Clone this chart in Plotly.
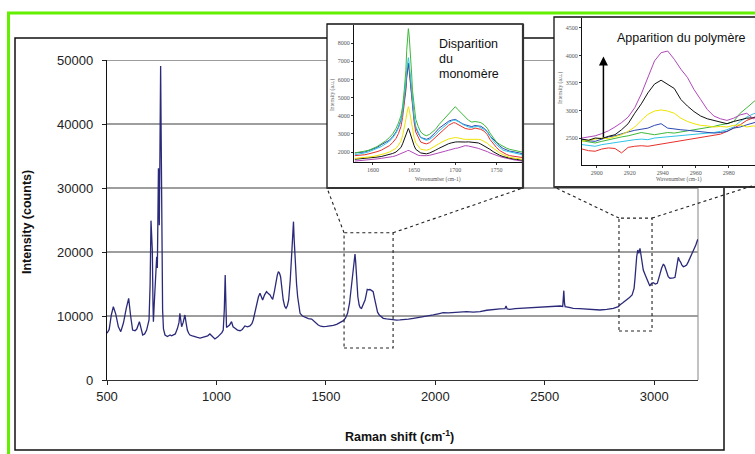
import plotly.graph_objects as go

W, H = 755, 454


def px(x):
    return x / W


def py(y):
    return 1 - y / H


# ---------------- main spectrum ----------------
raman_shift = [
    500, 510, 520, 529, 540, 552, 563, 575, 588, 599, 608, 617, 628, 636, 648, 657, 663, 672, 681, 692,
    697, 701, 704, 707, 710, 712, 716, 719, 723, 727, 730, 733, 735, 738, 739, 742, 745, 747, 749, 752,
    754, 758, 765, 776, 788, 795, 803, 812, 822, 829, 833, 837, 841, 848, 852, 856, 861, 867, 873, 879,
    890, 902, 913, 925, 936, 948, 960, 970, 980, 993, 1005, 1016, 1025, 1031, 1036, 1040, 1043, 1046, 1050, 1060,
    1069, 1076, 1085, 1096, 1108, 1118, 1130, 1142, 1153, 1162, 1168, 1176, 1184, 1192, 1199, 1205, 1211, 1220, 1229, 1237,
    1245, 1251, 1257, 1265, 1272, 1278, 1283, 1288, 1293, 1299, 1305, 1312, 1318, 1324, 1330, 1337, 1344, 1349, 1352, 1355,
    1360, 1366, 1371, 1376, 1382, 1393, 1404, 1420, 1435, 1450, 1465, 1476, 1488, 1503, 1519, 1534, 1549, 1565, 1580, 1590,
    1599, 1608, 1617, 1625, 1630, 1633, 1636, 1640, 1646, 1652, 1657, 1663, 1670, 1679, 1684, 1689, 1695, 1701, 1708, 1716,
    1722, 1729, 1736, 1744, 1752, 1762, 1777, 1793, 1808, 1823, 1838, 1854, 1877, 1900, 1922, 1945, 1968, 1991, 2013, 2036,
    2059, 2082, 2112, 2143, 2173, 2204, 2235, 2265, 2295, 2318, 2323, 2328, 2341, 2364, 2387, 2418, 2448, 2479, 2509, 2540,
    2570, 2582, 2585, 2587, 2590, 2593, 2611, 2630, 2660, 2691, 2722, 2752, 2783, 2813, 2836, 2843, 2858, 2874, 2887, 2899,
    2904, 2908, 2912, 2916, 2920, 2925, 2930, 2935, 2938, 2942, 2946, 2950, 2958, 2965, 2972, 2980, 2988, 2996, 3005, 3014,
    3020, 3026, 3034, 3042, 3048, 3054, 3060, 3064, 3072, 3080, 3088, 3095, 3102, 3110, 3115, 3120, 3126, 3133, 3140, 3148,
    3156, 3163, 3170, 3178, 3185, 3190, 3195, 3199,
]
intensity_counts = [
    7300, 7900, 10200, 11450, 10300, 8300, 7550, 8900, 11200, 12760, 10000, 7800, 7700, 7960, 9110, 7900, 7030, 7200, 7800, 9380,
    15000, 24900, 23000, 20300, 12000, 9110, 12000, 14060, 17000, 19270, 17500, 28000, 33070, 26000, 24200, 36000, 49060, 40000, 30800, 18000,
    10940, 8000, 7030, 6800, 7030, 6900, 7030, 7200, 8070, 9000, 10420, 9500, 8330, 9000, 9600, 10160, 9000, 7800, 7300, 7030,
    6900, 6720, 6650, 6560, 6650, 6700, 6900, 7190, 6800, 6410, 6700, 7030, 7400, 7800, 11000, 16400, 12500, 8200, 8330, 8600,
    9110, 8300, 8070, 7800, 7700, 7900, 8440, 8300, 8440, 8800, 9380, 10500, 11980, 13000, 13540, 12900, 12500, 13300, 13800, 13500,
    13280, 12900, 12600, 13900, 15360, 16400, 16920, 16700, 16140, 14000, 12500, 11500, 11200, 11600, 12500, 15500, 20300, 23500, 24740, 22000,
    17700, 15000, 13000, 11500, 10420, 10000, 9800, 9600, 9530, 9000, 8590, 8400, 8330, 8380, 8440, 8550, 8700, 8950, 9270, 9700,
    10420, 12000, 14580, 17500, 19200, 19690, 18500, 15630, 13000, 11720, 11300, 11200, 11700, 12500, 13300, 14170, 14100, 14140, 14000, 13800,
    12800, 11450, 10600, 10160, 9900, 9640, 9550, 9480, 9300, 9350, 9380, 9400, 9500, 9640, 9750, 9900, 10000, 10160, 10350, 10520,
    10500, 10570, 10650, 10680, 10600, 10680, 10900, 11040, 11100, 11150, 11560, 11100, 11040, 11150, 11200, 11300, 11350, 11400, 11450, 11500,
    11560, 11500, 13500, 13960, 12000, 11450, 11350, 11200, 11150, 11090, 11000, 10940, 11050, 11200, 11450, 11720, 12100, 12500, 12900, 13280,
    13800, 14320, 15800, 17700, 19300, 20300, 19800, 20570, 19800, 18750, 17900, 17190, 16500, 15890, 15200, 14690, 15100, 15200, 15000, 15100,
    15800, 16670, 17500, 18130, 17800, 17190, 16500, 16140, 15900, 15890, 15950, 16040, 17300, 19170, 18700, 18480, 18000, 17700, 17800, 17970,
    18500, 19020, 19600, 20050, 20600, 21090, 21600, 21980,
]
main_x_ticks = [500, 1000, 1500, 2000, 2500, 3000]
main_y_ticks = [0, 10000, 20000, 30000, 40000, 50000]

# zoomed regions (wavenumber min, max, intensity min, max)
zoom_monomer = [1583, 1807, 5000, 23000]
zoom_polymer = [2839, 2990, 7660, 25300]

# ---------------- inset 1 : disparition du monomère ----------------
mono_wn = [1578, 1584, 1590, 1595, 1600, 1605, 1610, 1615, 1620, 1624, 1628, 1631, 1634, 1636, 1638, 1640, 1641,
           1642, 1643, 1644, 1645, 1647, 1648, 1650, 1652, 1655, 1658, 1662, 1665, 1669, 1672, 1676, 1680, 1684,
           1688, 1692, 1695, 1698, 1700, 1703, 1705, 1709, 1712, 1716, 1720, 1724, 1728, 1731, 1735, 1739, 1742,
           1746, 1750, 1754, 1758, 1762, 1766, 1770, 1774, 1778, 1781]
mono_green = [1950, 1980, 2050, 2100, 2200, 2300, 2450, 2600, 2800, 3000, 3300, 3600, 4000, 4500, 5400, 6500, 7600,
              8300, 8800, 8400, 7800, 6300, 5400, 4500, 3800, 3400, 3100, 2950, 2900, 2980, 3100, 3250, 3500, 3700,
              3950, 4150, 4300, 4420, 4500, 4350, 4250, 4050, 3900, 3750, 3650, 3680, 3650, 3620, 3500, 3300, 3050,
              2800, 2550, 2420, 2300, 2220, 2150, 2100, 2050, 2020, 2000]
mono_cyan = [1850, 1880, 1950, 2010, 2100, 2180, 2300, 2440, 2600, 2780, 3050, 3330, 3700, 4200, 4900, 5800, 6500,
             7000, 7200, 6900, 6400, 5300, 4600, 3900, 3400, 3050, 2800, 2700, 2650, 2700, 2800, 2950, 3150, 3320,
             3500, 3620, 3700, 3760, 3750, 3700, 3650, 3520, 3450, 3380, 3350, 3400, 3400, 3350, 3250, 3080, 2850,
             2620, 2400, 2230, 2100, 2050, 2000, 1950, 1900, 1870, 1850]
mono_blue = [1950, 1970, 2000, 2080, 2150, 2250, 2400, 2520, 2650, 2850, 3100, 3380, 3750, 4200, 4800, 5600, 6200,
             6700, 6900, 6600, 6100, 5100, 4500, 3850, 3350, 3020, 2800, 2750, 2700, 2780, 2900, 3080, 3300, 3450,
             3600, 3700, 3750, 3800, 3800, 3720, 3650, 3550, 3500, 3440, 3400, 3460, 3450, 3420, 3300, 3120, 2900,
             2700, 2500, 2330, 2200, 2120, 2050, 2020, 2000, 1950, 1900]
mono_red = [1800, 1820, 1850, 1900, 1950, 2020, 2100, 2220, 2350, 2520, 2750, 3020, 3400, 3900, 4600, 5400, 6100,
            6600, 6800, 6500, 6000, 4900, 4300, 3650, 3100, 2780, 2550, 2480, 2450, 2520, 2650, 2820, 3000, 3180,
            3350, 3480, 3550, 3620, 3600, 3520, 3450, 3350, 3300, 3260, 3250, 3320, 3300, 3250, 3150, 2950, 2700,
            2450, 2250, 2080, 1950, 1870, 1800, 1780, 1750, 1720, 1700]
mono_yellow = [1650, 1670, 1700, 1720, 1750, 1800, 1850, 1920, 2000, 2080, 2200, 2380, 2600, 2900, 3300, 3800, 4100,
               4400, 4500, 4350, 4100, 3600, 3200, 2800, 2500, 2300, 2150, 2120, 2100, 2160, 2250, 2340, 2450, 2560,
               2650, 2720, 2750, 2800, 2800, 2780, 2750, 2720, 2700, 2710, 2700, 2720, 2700, 2680, 2600, 2480, 2350,
               2200, 2050, 1950, 1850, 1780, 1700, 1680, 1650, 1620, 1600]
mono_black = [1600, 1620, 1650, 1680, 1700, 1720, 1750, 1800, 1850, 1920, 2000, 2100, 2250, 2450, 2700, 2950, 3100,
              3250, 3300, 3200, 3050, 2800, 2600, 2350, 2150, 2050, 1950, 1920, 1900, 1950, 2000, 2100, 2200, 2300,
              2400, 2460, 2500, 2540, 2550, 2560, 2550, 2560, 2550, 2560, 2550, 2530, 2500, 2440, 2350, 2250, 2150,
              2020, 1900, 1820, 1750, 1700, 1650, 1620, 1600, 1570, 1550]
mono_magenta = [1500, 1520, 1550, 1570, 1600, 1620, 1650, 1680, 1700, 1750, 1800, 1850, 1900, 1950, 2000, 2030, 2050,
                2080, 2100, 2080, 2050, 2000, 1950, 1900, 1850, 1820, 1800, 1790, 1800, 1820, 1850, 1900, 1950, 2000,
                2050, 2100, 2150, 2180, 2200, 2220, 2250, 2300, 2350, 2330, 2300, 2250, 2200, 2150, 2100, 2020, 1950,
                1870, 1800, 1750, 1700, 1650, 1600, 1580, 1550, 1520, 1500]
mono_x_ticks = [1600, 1650, 1700, 1750]
mono_y_ticks = [2000, 3000, 4000, 5000, 6000, 7000, 8000]

# ---------------- inset 2 : apparition du polymère ----------------
poly_wn = [2891, 2895, 2899, 2903, 2907, 2911, 2915, 2919, 2923, 2927, 2931, 2935, 2939, 2943,
           2947, 2951, 2955, 2959, 2963, 2967, 2971, 2975, 2979, 2983, 2987, 2991, 2995, 2998]
poly_magenta = [2500, 2520, 2540, 2580, 2630, 2700, 2780, 2880, 3050, 3300, 3600, 3900, 4050, 4080,
                3930, 3750, 3600, 3380, 3200, 3020, 2900, 2850, 2820, 2860, 2920, 2950, 2850, 2900]
poly_black = [2480, 2460, 2500, 2490, 2530, 2560, 2650, 2760, 2950, 3120, 3320, 3480, 3550, 3470,
              3400, 3200, 3080, 2980, 2900, 2850, 2820, 2790, 2760, 2800, 2830, 2860, 2870, 2900]
poly_yellow = [2440, 2460, 2470, 2500, 2490, 2520, 2560, 2620, 2700, 2820, 2930, 2990, 3010, 2990,
               2950, 2860, 2800, 2760, 2730, 2720, 2700, 2710, 2700, 2730, 2740, 2700, 2720, 2700]
poly_blue = [2480, 2450, 2440, 2480, 2520, 2540, 2580, 2610, 2640, 2660, 2680, 2730, 2760, 2680,
             2660, 2650, 2640, 2630, 2620, 2600, 2590, 2600, 2620, 2680, 2700, 2740, 2770, 2800]
poly_green = [2450, 2430, 2410, 2440, 2470, 2490, 2520, 2540, 2570, 2600, 2580, 2560, 2580, 2600,
              2590, 2610, 2620, 2640, 2660, 2690, 2710, 2740, 2760, 2800, 2950, 3050, 3150, 3230]
poly_cyan = [2380, 2360, 2350, 2380, 2400, 2420, 2440, 2450, 2470, 2480, 2470, 2500, 2510, 2520,
             2530, 2540, 2550, 2560, 2570, 2590, 2600, 2620, 2650, 2700, 2800, 2880, 2940, 2960]
poly_red = [2300, 2270, 2260, 2300, 2320, 2310, 2230, 2330, 2350, 2360, 2350, 2370, 2380, 2400,
            2420, 2440, 2460, 2480, 2500, 2520, 2540, 2570, 2620, 2680, 2740, 2820, 2870, 2900]
poly_x_ticks = [2900, 2920, 2940, 2960, 2980]
poly_y_ticks = [2500, 3000, 3500, 4000, 4500]

# ---------------- geometry ----------------
MAIN_XR, MAIN_YR = [500, 3200], [0, 50000]
MAIN_XD, MAIN_YD = [px(107), px(698)], [py(380), py(60)]
IN1_XR, IN1_YR = [1577, 1781], [1450, 9000]
IN1_XD, IN1_YD = [px(354), px(522)], [py(162), py(25)]
IN2_XR, IN2_YR = [2891, 2996], [2010, 4680]
IN2_XD, IN2_YD = [px(582), 1.0], [py(165), py(18)]


def to_paper_x(v):
    return MAIN_XD[0] + (v - MAIN_XR[0]) / (MAIN_XR[1] - MAIN_XR[0]) * (MAIN_XD[1] - MAIN_XD[0])


def to_paper_y(v):
    return MAIN_YD[0] + (v - MAIN_YR[0]) / (MAIN_YR[1] - MAIN_YR[0]) * (MAIN_YD[1] - MAIN_YD[0])


fig = go.Figure()

fig.add_trace(go.Scatter(x=raman_shift, y=intensity_counts, mode="lines",
                         line=dict(color="#2B2A7A", width=1.3), xaxis="x", yaxis="y"))

mono_colors = [(mono_magenta, "#B048B8"), (mono_black, "#111111"), (mono_yellow, "#F0E400"),
               (mono_red, "#E8302A"), (mono_blue, "#2B48B0"), (mono_cyan, "#30C4E8"), (mono_green, "#3DB83A")]
for ys, c in mono_colors:
    fig.add_trace(go.Scatter(x=mono_wn, y=ys, mode="lines", line=dict(color=c, width=1),
                             xaxis="x2", yaxis="y2"))

poly_colors = [(poly_red, "#E8302A"), (poly_cyan, "#30C4E8"), (poly_green, "#3DB83A"), (poly_blue, "#2B48B0"),
               (poly_yellow, "#F0E400"), (poly_black, "#111111"), (poly_magenta, "#B048B8")]
for ys, c in poly_colors:
    fig.add_trace(go.Scatter(x=poly_wn, y=ys, mode="lines", line=dict(color=c, width=1),
                             xaxis="x3", yaxis="y3"))

tickfont_main = dict(family="Liberation Sans, Arial", size=13, color="#222")
tickfont_inset = dict(family="Liberation Serif, DejaVu Serif", size=6, color="#555")

shapes = []
# outer black frame
shapes.append(dict(type="rect", xref="paper", yref="paper", x0=px(15), x1=px(724), y0=py(450), y1=py(38),
                   line=dict(color="#111", width=1.5), layer="below"))
# gridlines
for v in main_y_ticks[1:]:
    shapes.append(dict(type="line", xref="paper", yref="y", x0=MAIN_XD[0], x1=MAIN_XD[1], y0=v, y1=v,
                       line=dict(color="#3c3c3c", width=1), layer="below"))
# right border of plot area
shapes.append(dict(type="line", xref="paper", yref="paper", x0=MAIN_XD[1], x1=MAIN_XD[1],
                   y0=MAIN_YD[0], y1=MAIN_YD[1], line=dict(color="#9a9a9a", width=1.2), layer="below"))
# inset white backgrounds
in1_box = [px(327), px(523), py(188), py(24)]
in2_box = [px(554), px(765), py(187), py(17)]
for b in (in1_box, in2_box):
    shapes.append(dict(type="rect", xref="paper", yref="paper", x0=b[0], x1=b[1], y0=b[2], y1=b[3],
                       fillcolor="white", line=dict(width=0), layer="below"))
    shapes.append(dict(type="rect", xref="paper", yref="paper", x0=b[0], x1=b[1], y0=b[2], y1=b[3],
                       line=dict(color="#111", width=1.3), layer="above"))
    shapes.append(dict(type="line", xref="paper", yref="paper", x0=b[0], x1=b[1], y0=b[2], y1=b[2],
                       line=dict(color="#333", width=2.2), layer="above"))
    shapes.append(dict(type="line", xref="paper", yref="paper", x0=b[1], x1=b[1], y0=b[2], y1=b[3],
                       line=dict(color="#333", width=2.2), layer="above"))

# zoom boxes + connectors
for z, b in ((zoom_monomer, in1_box), (zoom_polymer, in2_box)):
    x0, x1 = to_paper_x(z[0]), to_paper_x(z[1])
    y0, y1 = to_paper_y(z[2]), to_paper_y(z[3])
    dl = dict(color="#222", width=1.1, dash="dot")
    shapes.append(dict(type="rect", xref="paper", yref="paper", x0=x0, x1=x1, y0=y0, y1=y1,
                       line=dl, layer="above"))
    shapes.append(dict(type="line", xref="paper", yref="paper", x0=x0, y0=y1, x1=b[0], y1=b[2],
                       line=dl, layer="above"))
    right_x = min(b[1], 1.0)
    right_y = py(185) if b[1] > 1 else b[2]
    shapes.append(dict(type="line", xref="paper", yref="paper", x0=x1, y0=y1, x1=right_x, y1=right_y,
                       line=dl, layer="above"))

# green border
shapes.append(dict(type="line", xref="paper", yref="paper", x0=px(7), x1=1.0, y0=py(13), y1=py(13),
                   line=dict(color="#62F000", width=3), layer="above"))
shapes.append(dict(type="line", xref="paper", yref="paper", x0=px(8.5), x1=px(8.5), y0=py(12), y1=0,
                   line=dict(color="#62F000", width=3), layer="above"))

sans = "Liberation Sans, Arial"
serif = "Liberation Serif, DejaVu Serif"


def note(text, x, y, size, family=sans, color="#111", angle=0, xanchor="center"):
    return dict(text=text, x=px(x), y=py(y), xref="paper", yref="paper", showarrow=False,
                xanchor=xanchor, yanchor="middle", textangle=angle,
                font=dict(family=family, size=size, color=color))


annotations = [
    note("<b>Intensity (counts)</b>", 27, 222, 12.5, angle=-90),
    note("<b>Raman shift (cm<sup>-1</sup>)</b>", 399, 436, 12.5),
    note("Disparition", 437, 44, 12.5, xanchor="left"),
    note("du", 437, 59, 12.5, xanchor="left"),
    note("monomère", 437, 74, 12.5, xanchor="left"),
    note("Apparition du polymère", 681, 38, 12.5),
    note("Wavenumber (cm-1)", 438, 179.5, 5.5, family=serif, color="#555"),
    note("Intensity (a.u.)", 333, 95, 5.5, family=serif, color="#555", angle=-90),
    note("Wavenumber (cm-1)", 679, 179, 5.5, family=serif, color="#555"),
    note("Intensity (a.u.)", 561, 88, 5.5, family=serif, color="#555", angle=-90),
    dict(text="", x=2904, y=3980, xref="x3", yref="y3", ax=2904, ay=2480, axref="x3", ayref="y3",
         showarrow=True, arrowhead=2, arrowsize=1.2, arrowwidth=1.5, arrowcolor="#000"),
]

inset_axis = dict(showline=True, linecolor="#111", linewidth=1, ticks="outside", ticklen=2,
                  tickcolor="#333", tickfont=tickfont_inset, showgrid=False, zeroline=False,
                  automargin=False)

fig.update_layout(
    width=W, height=H, margin=dict(l=0, r=0, t=0, b=0, pad=0, autoexpand=False),
    paper_bgcolor="white", plot_bgcolor="white", showlegend=False,
    xaxis=dict(range=MAIN_XR, domain=MAIN_XD, tickvals=main_x_ticks, ticks="outside", ticklen=4,
               tickcolor="#222", showline=True, linecolor="#333", linewidth=1.2, showgrid=False,
               zeroline=False, tickfont=tickfont_main, anchor="y", automargin=False),
    yaxis=dict(range=MAIN_YR, domain=MAIN_YD, tickvals=main_y_ticks, tickformat="d", ticks="outside",
               ticklen=4, tickcolor="#222", showline=True, linecolor="#111", linewidth=1.2, showgrid=False,
               zeroline=False, tickfont=tickfont_main, ticklabelstandoff=6, anchor="x", automargin=False),
    xaxis2=dict(range=IN1_XR, domain=IN1_XD, tickvals=mono_x_ticks, anchor="y2", **inset_axis),
    yaxis2=dict(range=IN1_YR, domain=IN1_YD, tickvals=mono_y_ticks, anchor="x2", **inset_axis),
    xaxis3=dict(range=IN2_XR, domain=IN2_XD, tickvals=poly_x_ticks, anchor="y3", **inset_axis),
    yaxis3=dict(range=IN2_YR, domain=IN2_YD, tickvals=poly_y_ticks, anchor="x3", **inset_axis),
    shapes=shapes, annotations=annotations,
)

fig.write_html("out.html", config={"displayModeBar": False, "staticPlot": True},
               post_script="document.body.style.margin='0px';document.body.style.overflow='hidden';")
